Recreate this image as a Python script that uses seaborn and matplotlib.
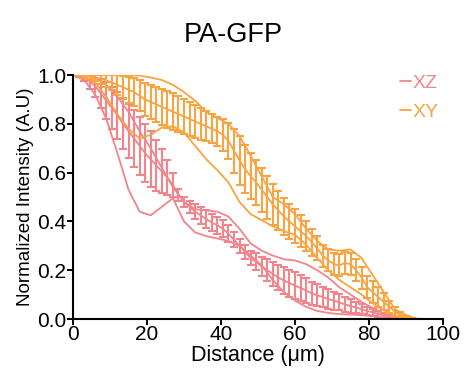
import numpy as np
import pandas as pd
import matplotlib
matplotlib.use("Agg")
import matplotlib.pyplot as plt
import seaborn as sns

# ---- data ----
dist = [0, 1.5, 3, 4.5, 6, 7.5, 9, 10.5, 12, 13.5, 15, 16.5, 18, 19.5, 21, 22.5, 24, 25.5,
        27, 28.5, 30, 31.5, 33, 34.5, 36, 37.5, 39, 40.5, 42, 43.5, 45, 46.5, 48, 49.5, 51,
        52.5, 54, 55.5, 57, 58.5, 60, 61.5, 63, 64.5, 66, 67.5, 69, 70.5, 72, 73.5, 75, 76.5,
        78, 79.5, 81, 82.5, 84, 85.5, 87, 88.5, 90, 91.5, 93]

xz_mean = [1.0, 0.998, 0.99, 0.975, 0.955, 0.925, 0.895, 0.865, 0.835, 0.8, 0.77, 0.74, 0.71,
           0.68, 0.655, 0.63, 0.605, 0.58, 0.55, 0.51, 0.48, 0.46, 0.44, 0.425, 0.41, 0.395,
           0.385, 0.37, 0.35, 0.325, 0.3, 0.275, 0.25, 0.235, 0.215, 0.2, 0.185, 0.17, 0.158,
           0.147, 0.137, 0.127, 0.117, 0.105, 0.097, 0.09, 0.082, 0.075, 0.068, 0.06, 0.053,
           0.047, 0.04, 0.033, 0.027, 0.02, 0.015, 0.01, 0.007, 0.004, 0.002, 0.001, 0.0]
xz_sd = [0.0, 0.005, 0.015, 0.03, 0.045, 0.06, 0.075, 0.085, 0.095, 0.105, 0.11, 0.115, 0.12,
         0.12, 0.115, 0.105, 0.09, 0.07, 0.05, 0.025, 0.02, 0.025, 0.03, 0.035, 0.035, 0.035,
         0.035, 0.035, 0.035, 0.03, 0.03, 0.03, 0.03, 0.035, 0.04, 0.045, 0.05, 0.052, 0.055,
         0.055, 0.055, 0.053, 0.05, 0.048, 0.045, 0.042, 0.04, 0.037, 0.033, 0.03, 0.027,
         0.024, 0.02, 0.018, 0.015, 0.012, 0.01, 0.008, 0.006, 0.004, 0.003, 0.002, 0.0]

xy_mean = [1.0, 1.0, 0.998, 0.995, 0.99, 0.985, 0.978, 0.97, 0.96, 0.95, 0.94, 0.93, 0.915,
           0.9, 0.89, 0.88, 0.87, 0.86, 0.85, 0.84, 0.83, 0.82, 0.81, 0.8, 0.79, 0.78, 0.77,
           0.755, 0.73, 0.69, 0.65, 0.615, 0.585, 0.56, 0.53, 0.5, 0.47, 0.445, 0.42, 0.4,
           0.38, 0.36, 0.34, 0.315, 0.29, 0.26, 0.24, 0.225, 0.22, 0.23, 0.225, 0.2, 0.17,
           0.13, 0.11, 0.09, 0.07, 0.05, 0.03, 0.018, 0.008, 0.003, 0.0]
xy_sd = [0.0, 0.003, 0.006, 0.01, 0.015, 0.02, 0.027, 0.033, 0.04, 0.047, 0.053, 0.058, 0.063,
         0.067, 0.07, 0.072, 0.074, 0.075, 0.075, 0.075, 0.073, 0.07, 0.067, 0.065, 0.062,
         0.06, 0.06, 0.065, 0.075, 0.09, 0.1, 0.1, 0.095, 0.092, 0.09, 0.088, 0.085, 0.08,
         0.075, 0.072, 0.07, 0.065, 0.06, 0.055, 0.05, 0.045, 0.045, 0.045, 0.045, 0.045,
         0.045, 0.045, 0.045, 0.045, 0.045, 0.04, 0.035, 0.025, 0.018, 0.012, 0.006, 0.003, 0.0]

dist_tr = [0, 3, 6, 9, 12, 15, 18, 21, 24, 27, 30, 33, 36, 39, 42, 45, 48, 51, 54, 57, 60,
           63, 66, 69, 72, 75, 78, 81, 84, 87, 90, 93]
xz_hi = [1.0, 1.0, 0.99, 0.96, 0.91, 0.85, 0.77, 0.7, 0.62, 0.54, 0.48, 0.45, 0.445, 0.44,
         0.42, 0.37, 0.31, 0.28, 0.26, 0.245, 0.24, 0.225, 0.2, 0.17, 0.13, 0.1, 0.07, 0.045,
         0.022, 0.008, 0.002, 0.0]
xz_lo = [1.0, 0.98, 0.92, 0.82, 0.68, 0.53, 0.44, 0.425, 0.46, 0.495, 0.4, 0.355, 0.34, 0.33,
         0.32, 0.3, 0.26, 0.22, 0.16, 0.11, 0.075, 0.05, 0.033, 0.025, 0.02, 0.018, 0.016,
         0.012, 0.006, 0.003, 0.001, 0.0]
xy_hi = [1.0, 1.0, 1.0, 1.0, 1.0, 1.0, 0.998, 0.99, 0.98, 0.96, 0.93, 0.895, 0.85, 0.825, 0.8,
         0.75, 0.67, 0.585, 0.5, 0.47, 0.43, 0.37, 0.32, 0.285, 0.28, 0.285, 0.25, 0.18, 0.11,
         0.04, 0.016, 0.0]
xy_lo = [1.0, 0.99, 0.97, 0.91, 0.84, 0.78, 0.74, 0.755, 0.785, 0.79, 0.765, 0.71, 0.655,
         0.61, 0.56, 0.48, 0.43, 0.405, 0.38, 0.36, 0.345, 0.305, 0.25, 0.2, 0.16, 0.13, 0.1,
         0.065, 0.035, 0.015, 0.005, 0.0]

series = ["XZ", "XY"]
colors = {"XZ": "#F2848B", "XY": "#F9A440"}

# ---- figure ----
sns.set_theme(style="ticks")
plt.rcParams["font.family"] = ["Liberation Sans", "DejaVu Sans"]

fig = plt.figure(figsize=(4.66, 3.69), dpi=100)
ax = fig.add_axes([0.1567, 0.1355, 0.794, 0.661])

means = {"XZ": (xz_mean, xz_sd), "XY": (xy_mean, xy_sd)}
traces = {"XZ": (xz_hi, xz_lo), "XY": (xy_hi, xy_lo)}

for s in series:
    c = colors[s]
    hi, lo = traces[s]
    tr = pd.DataFrame({"d": dist_tr * 2, "v": hi + lo,
                       "t": ["hi"] * len(dist_tr) + ["lo"] * len(dist_tr)})
    sns.lineplot(data=tr, x="d", y="v", units="t", estimator=None, color=c,
                 lw=1.3, ax=ax, legend=False)
    m, sd = means[s]
    df = pd.DataFrame({"d": dist, "v": m})
    sns.lineplot(data=df, x="d", y="v", color=c, lw=1.3, ax=ax, label=s)
    ax.errorbar(dist, m, yerr=sd, fmt="none", ecolor=c, elinewidth=1.5,
                capsize=3.0, capthick=1.5)

ax.set_xlim(0, 100)
ax.set_ylim(0, 1.0)
ax.set_xticks([0, 20, 40, 60, 80, 100])
ax.set_yticks([0.0, 0.2, 0.4, 0.6, 0.8, 1.0])
ax.set_yticklabels(["0.0", "0.2", "0.4", "0.6", "0.8", "1.0"])
ax.tick_params(axis="both", labelsize=15, length=4, width=1.4, color="black",
               pad=1, labelcolor="black")
ax.tick_params(axis="x", pad=0.5)
for sp in ["left", "bottom"]:
    ax.spines[sp].set_linewidth(1.5)
    ax.spines[sp].set_color("black")
sns.despine(ax=ax)

ax.set_xlabel("Distance (μm)", fontsize=15.5, labelpad=0.2, color="black")
ax.set_ylabel("Normalized Intensity (A.U)", fontsize=13.5, labelpad=2, color="black")
fig.text(0.5, 0.905, "PA-GFP", ha="center", va="center", fontsize=19.5, color="black")

leg = ax.legend(loc="upper right", bbox_to_anchor=(1.01, 1.035), frameon=False,
                handlelength=0.55, handletextpad=0.1, fontsize=14, labelspacing=0.6,
                borderaxespad=0.0)
for txt, s in zip(leg.get_texts(), series):
    txt.set_color(colors[s])

fig.savefig("out.png", dpi=100)
